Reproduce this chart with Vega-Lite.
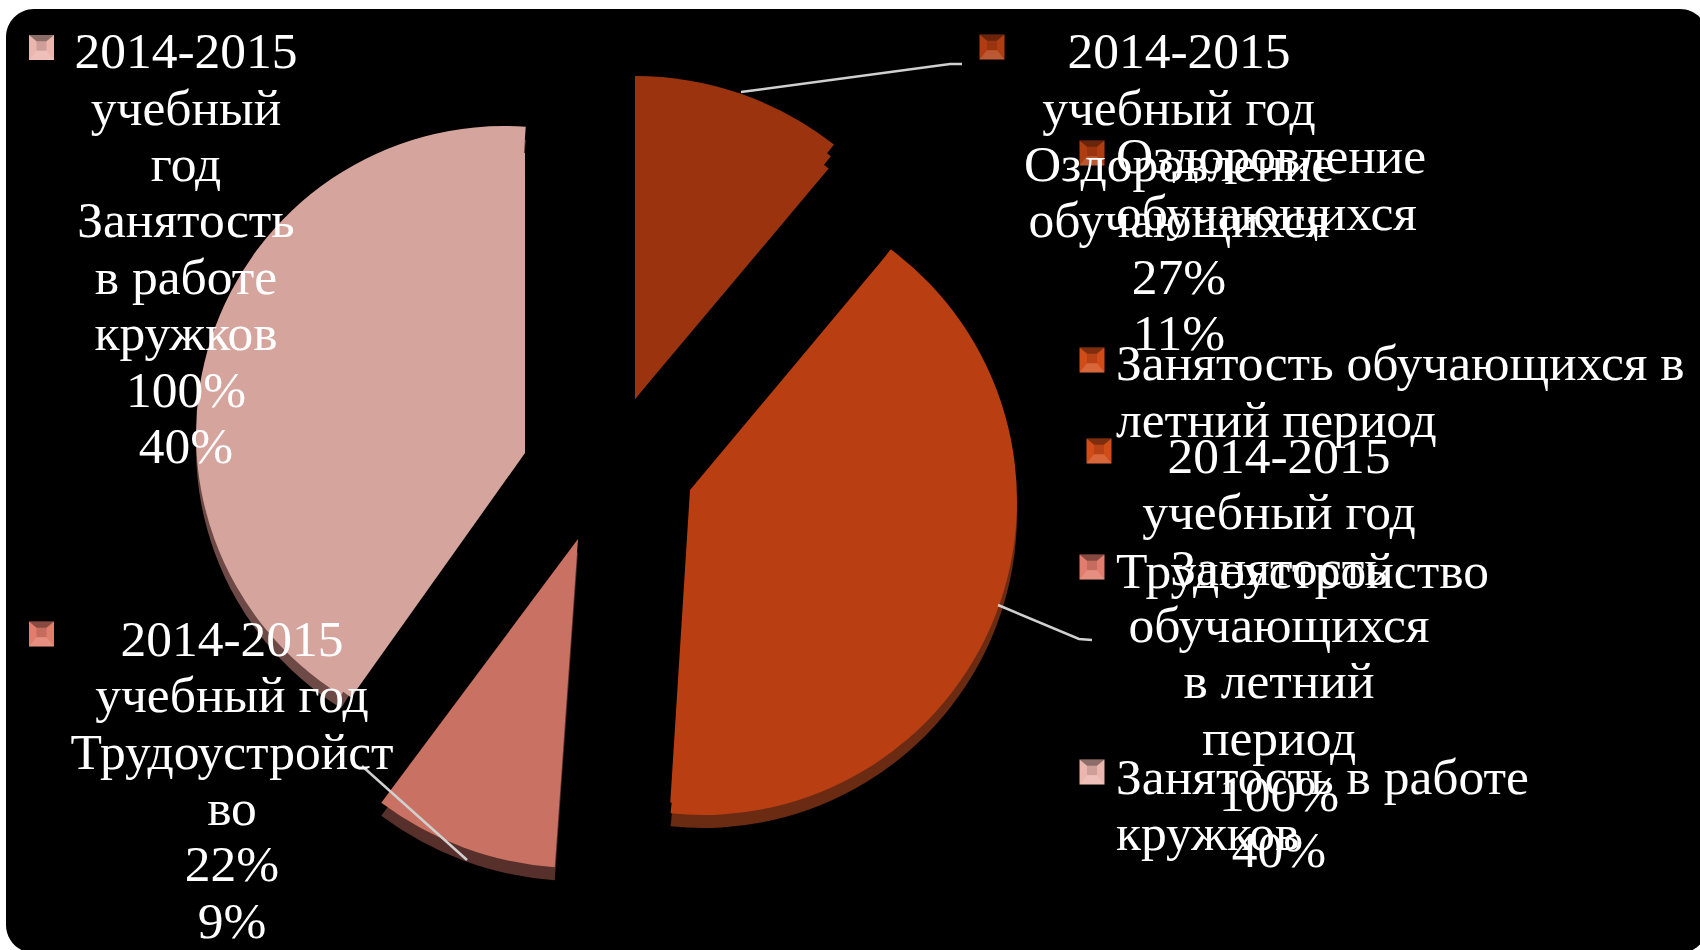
{"$schema":"https://vega.github.io/schema/vega-lite/v6.json","width":1700,"height":950,"padding":0,"autosize":{"type":"none"},"background":"#ffffff","view":{"stroke":null},
"resolve":{"scale":{"fill":"independent","color":"independent"}},
"datasets":{
"panel":[{"x":6,"x2":1708,"y":9,"y2":953}],
"slices":[
{"name":"Оздоровление обучающихся","part":"p1","value":27,"start":0,"end":26.3,"cx":635,"cy":399,"r":323},
{"name":"Занятость обучающихся в летний период","part":"p2","value":100,"start":27.6,"end":127,"cx":690,"cy":490,"r":313},
{"name":"Занятость обучающихся в летний период","part":"p3","value":100,"start":25.4,"end":128.6,"cx":703,"cy":501,"r":314},
{"name":"Трудоустройство","part":"p4","value":22,"start":127.3,"end":149.9,"cx":578,"cy":539,"r":329},
{"name":"Занятость в работе кружков","part":"p5","value":100,"start":149,"end":249,"cx":525,"cy":453,"r":300},
{"name":"Занятость в работе кружков","part":"p6","value":100,"start":146.6,"end":251.8,"cx":504,"cy":434,"r":308}],
"chip":[{"name":"Оздоровление обучающихся","start":0,"end":26.9,"cx":635,"cy":399,"r":312},{"name":"Оздоровление обучающихся","start":0,"end":27.7,"cx":635,"cy":399,"r":301}],
"leaders":[
{"id":"a","o":1,"x":741,"y":92},{"id":"a","o":2,"x":950,"y":64},{"id":"a","o":3,"x":962,"y":64},
{"id":"b","o":1,"x":998,"y":605},{"id":"b","o":2,"x":1079,"y":639},{"id":"b","o":3,"x":1092,"y":640},
{"id":"c","o":1,"x":362,"y":766},{"id":"c","o":2,"x":467,"y":860}],
"markers":[
{"name":"Занятость в работе кружков","x":41.5,"y":47.5},
{"name":"Оздоровление обучающихся","x":992,"y":47},
{"name":"Оздоровление обучающихся","x":1092,"y":153},
{"name":"Занятость обучающихся в летний период","x":1092,"y":360},
{"name":"Занятость обучающихся в летний период","x":1099,"y":451},
{"name":"Трудоустройство","x":1092,"y":567},
{"name":"Занятость в работе кружков","x":1092,"y":772},
{"name":"Трудоустройство","x":41.5,"y":634}],
"centered":[
{"t":"2014-2015","x":186,"y":68},{"t":"учебный","x":186,"y":125},{"t":"год","x":186,"y":181},{"t":"Занятость","x":186,"y":237},{"t":"в работе","x":186,"y":294},{"t":"кружков","x":186,"y":350},{"t":"100%","x":186,"y":407},{"t":"40%","x":186,"y":463},
{"t":"2014-2015","x":1179,"y":68},{"t":"учебный год","x":1179,"y":125},{"t":"Оздоровление","x":1179,"y":181},{"t":"обучающихся","x":1179,"y":237},{"t":"27%","x":1179,"y":294},{"t":"11%","x":1179,"y":350},
{"t":"2014-2015","x":1279,"y":473},{"t":"учебный год","x":1279,"y":529},{"t":"Занятость","x":1279,"y":585},{"t":"обучающихся","x":1279,"y":642},{"t":"в летний","x":1279,"y":698},{"t":"период","x":1279,"y":755},{"t":"100%","x":1279,"y":811},{"t":"40%","x":1279,"y":867},
{"t":"2014-2015","x":232,"y":656},{"t":"учебный год","x":232,"y":712},{"t":"Трудоустройст","x":232,"y":769},{"t":"во","x":232,"y":825},{"t":"22%","x":232,"y":881},{"t":"9%","x":232,"y":938}],
"legend":[
{"t":"Оздоровление","x":1116,"y":173},{"t":"обучающихся","x":1116,"y":230},
{"t":"Занятость обучающихся в","x":1116,"y":380},{"t":"летний период","x":1116,"y":437},
{"t":"Трудоустройство","x":1116,"y":588},
{"t":"Занятость в работе","x":1116,"y":794},{"t":"кружков","x":1116,"y":850}]
},
"encoding":{"x":{"field":"x","type":"quantitative","scale":{"domain":[0,1700],"range":[0,1700]},"axis":null},"y":{"field":"y","type":"quantitative","scale":{"domain":[0,950],"range":[0,950]},"axis":null}},
"layer":[
{"data":{"name":"panel"},"mark":{"type":"rect","fill":"#000000","cornerRadius":28},"encoding":{"x2":{"field":"x2"},"y2":{"field":"y2"}}},
{"data":{"name":"slices"},"transform":[{"filter":"datum.part=='p3'||datum.part=='p4'||datum.part=='p6'"}],"mark":{"type":"arc","yOffset":13},"encoding":{"x":{"field":"cx","type":"quantitative"},"y":{"field":"cy","type":"quantitative"},"theta":{"field":"start","type":"quantitative","stack":null,"scale":{"domain":[0,249],"range":[0,6.283185]}},"theta2":{"field":"end"},"radius":{"field":"r","type":"quantitative","scale":{"type":"linear","domain":[0,400],"range":[0,400]}},"radius2":{"value":0},"fill":{"field":"name","type":"nominal","legend":null,"scale":{"domain":["Оздоровление обучающихся","Занятость обучающихся в летний период","Трудоустройство","Занятость в работе кружков"],"range":["#9A330E","#6B2A12","#58302B","#6E4A46"]}}}},
{"data":{"name":"chip"},"mark":{"type":"arc","fill":"#9A330E"},"encoding":{"x":{"field":"cx","type":"quantitative"},"y":{"field":"cy","type":"quantitative"},"theta":{"field":"start","type":"quantitative","stack":null},"theta2":{"field":"end"},"radius":{"field":"r","type":"quantitative"},"radius2":{"value":0}}},
{"data":{"name":"slices"},"mark":{"type":"arc"},"encoding":{"x":{"field":"cx","type":"quantitative"},"y":{"field":"cy","type":"quantitative"},"theta":{"field":"start","type":"quantitative","stack":null},"theta2":{"field":"end"},"radius":{"field":"r","type":"quantitative"},"radius2":{"value":0},"fill":{"field":"name","type":"nominal","legend":null,"scale":{"domain":["Оздоровление обучающихся","Занятость обучающихся в летний период","Трудоустройство","Занятость в работе кружков"],"range":["#9A330E","#B93F12","#C97263","#D5A49C"]}}}},
{"data":{"name":"leaders"},"mark":{"type":"line","stroke":"#D0D0D0","strokeWidth":2.5},"encoding":{"detail":{"field":"id"},"order":{"field":"o","type":"quantitative"}}},
{"data":{"name":"markers"},"mark":{"type":"square","size":625,"opacity":1},"encoding":{"fill":{"field":"name","type":"nominal","legend":null,"scale":{"domain":["Оздоровление обучающихся","Занятость обучающихся в летний период","Трудоустройство","Занятость в работе кружков"],"range":["#B03C12","#D24C18","#E27C6C","#EBB6AD"]}}}},
{"data":{"name":"markers"},"mark":{"type":"point","filled":true,"shape":"M-1,-1L1,-1L0.4,-0.5L-0.4,-0.5Z","size":625,"opacity":0.4,"fill":"#000000","strokeWidth":0},"encoding":{}},
{"data":{"name":"markers"},"mark":{"type":"point","filled":true,"shape":"M-1,1L1,1L0.4,0.25L-0.4,0.25Z","size":625,"opacity":0.15,"fill":"#ffffff","strokeWidth":0},"encoding":{}},
{"data":{"name":"markers"},"mark":{"type":"point","filled":true,"shape":"M-0.4,-0.5L0.4,-0.5L0.4,0.25L-0.4,0.25Z","size":625,"opacity":0.12,"fill":"#000000","strokeWidth":0},"encoding":{}},
{"data":{"name":"centered"},"mark":{"type":"text","font":"Liberation Serif","fontSize":51.5,"fill":"#ffffff","align":"center","baseline":"alphabetic"},"encoding":{"text":{"field":"t"}}},
{"data":{"name":"legend"},"mark":{"type":"text","font":"Liberation Serif","fontSize":51.5,"fill":"#ffffff","align":"left","baseline":"alphabetic"},"encoding":{"text":{"field":"t"}}}
]}
